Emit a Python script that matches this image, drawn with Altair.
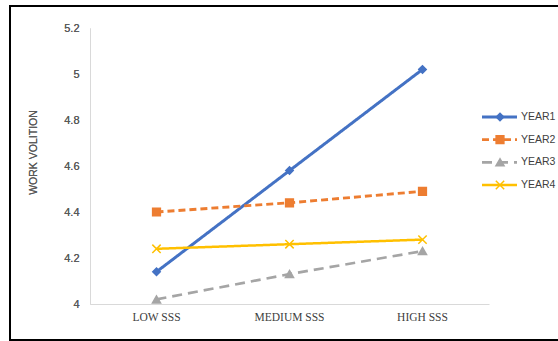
import altair as alt
import pandas as pd

categories = ["LOW SSS", "MEDIUM SSS", "HIGH SSS"]
series = ["YEAR1", "YEAR2", "YEAR3", "YEAR4"]
year1 = [4.14, 4.58, 5.02]
year2 = [4.40, 4.44, 4.49]
year3 = [4.02, 4.13, 4.23]
year4 = [4.24, 4.26, 4.28]
y_ticks = [4, 4.2, 4.4, 4.6, 4.8, 5, 5.2]
colors = ["#4472C4", "#ED7D31", "#A5A5A5", "#FFC000"]

values = {"YEAR1": year1, "YEAR2": year2, "YEAR3": year3, "YEAR4": year4}
rows = []
for s in series:
    for c, v in zip(categories, values[s]):
        rows.append({"series": s, "cat": c, "value": v})
df = pd.DataFrame(rows)
legend_df = pd.DataFrame({"series": series})
border_df = pd.DataFrame({"b": [0]})

X_SHAPE = "M-1,-1L1,1M-1,1L1,-1"
color_scale = alt.Scale(domain=series, range=colors)
shape_scale = alt.Scale(domain=series, range=["diamond", "square", "triangle-up", X_SHAPE])
dash_scale = alt.Scale(domain=series, range=[[1, 0], [7, 4], [10, 6], [1, 0]])
width_scale = alt.Scale(domain=series, range=[3, 2.5, 2.5, 2.5])
size_scale = alt.Scale(domain=series, range=[55, 70, 70, 70])

x_enc = alt.X(
    "cat:N",
    sort=categories,
    bandPosition=0.5,
    scale=alt.Scale(type="band", domain=categories, range=[80, 479], paddingInner=0, paddingOuter=0),
    axis=alt.Axis(
        title=None, orient="bottom", offset=-36, labelAngle=0, ticks=False,
        domainColor="#D9D9D9", domainWidth=1, grid=False,
        labelFont="Liberation Serif", labelFontSize=11.5, labelColor="#404040",
        labelPadding=7,
    ),
)
y_enc = alt.Y(
    "value:Q",
    scale=alt.Scale(domain=[4, 5.2], range=[298, 22], nice=False, zero=False),
    axis=alt.Axis(
        values=y_ticks, format="~g", orient="left", offset=-80, ticks=False, grid=False,
        domainColor="#D9D9D9", domainWidth=1,
        labelFont="Liberation Sans", labelFontSize=11, labelColor="#595959", labelPadding=11,
        title="WORK VOLITION", titleFont="Liberation Sans", titleFontSize=10.5,
        titleFontWeight="normal", titleColor="#595959", titleAngle=270,
        titleX=-57, titleY=146, titleAlign="center", titleBaseline="middle",
    ),
)

lines = alt.Chart(df).mark_line().encode(
    x=x_enc,
    y=y_enc,
    color=alt.Color("series:N", scale=color_scale, legend=None),
    strokeDash=alt.StrokeDash("series:N", scale=dash_scale, legend=None),
    strokeWidth=alt.StrokeWidth("series:N", scale=width_scale, legend=None),
    detail="series:N",
)
points = alt.Chart(df).mark_point(filled=True, strokeWidth=1.5, opacity=1).encode(
    x=x_enc,
    y=y_enc,
    color=alt.Color("series:N", scale=color_scale, legend=None),
    stroke=alt.Stroke("series:N", scale=color_scale, legend=None),
    shape=alt.Shape("series:N", scale=shape_scale, legend=None),
    size=alt.Size("series:N", scale=size_scale, legend=None),
)

leg_y = alt.Y("series:N", sort=series,
              scale=alt.Scale(type="point", domain=series, range=[111, 179], padding=0),
              axis=None)
leg_rule = alt.Chart(legend_df).mark_rule().encode(
    x=alt.value(472), x2=alt.value(507), y=leg_y,
    color=alt.Color("series:N", scale=color_scale, legend=None),
    strokeDash=alt.StrokeDash("series:N", scale=dash_scale, legend=None),
    strokeWidth=alt.StrokeWidth("series:N", scale=width_scale, legend=None),
)
leg_pt = alt.Chart(legend_df).mark_point(filled=True, strokeWidth=1.5, opacity=1).encode(
    x=alt.value(490), y=leg_y,
    color=alt.Color("series:N", scale=color_scale, legend=None),
    stroke=alt.Stroke("series:N", scale=color_scale, legend=None),
    shape=alt.Shape("series:N", scale=shape_scale, legend=None),
    size=alt.Size("series:N", scale=size_scale, legend=None),
)
leg_text = alt.Chart(legend_df).mark_text(
    align="left", baseline="middle", font="Liberation Sans", fontSize=10.5, color="#404040"
).encode(x=alt.value(511), y=leg_y, text="series:N")

border_top = alt.Chart(border_df).mark_rule(color="black", strokeWidth=2).encode(
    x=alt.value(-1), x2=alt.value(560), y=alt.value(0))
border_left = alt.Chart(border_df).mark_rule(color="black", strokeWidth=2).encode(
    x=alt.value(0), y=alt.value(-1), y2=alt.value(335))
border_bottom = alt.Chart(border_df).mark_rule(color="black", strokeWidth=2).encode(
    x=alt.value(-1), x2=alt.value(560), y=alt.value(334))

chart = alt.layer(
    lines, points, leg_rule, leg_pt, leg_text, border_top, border_left, border_bottom
).resolve_scale(y="independent").properties(
    width=548, height=334,
    autosize=alt.AutoSizeParams(type="none"),
    padding={"left": 10, "top": 6, "right": 0, "bottom": 1},
    background="white",
).configure_view(stroke=None)

chart.save("out.html", embed_options={"renderer": "svg", "actions": False})
